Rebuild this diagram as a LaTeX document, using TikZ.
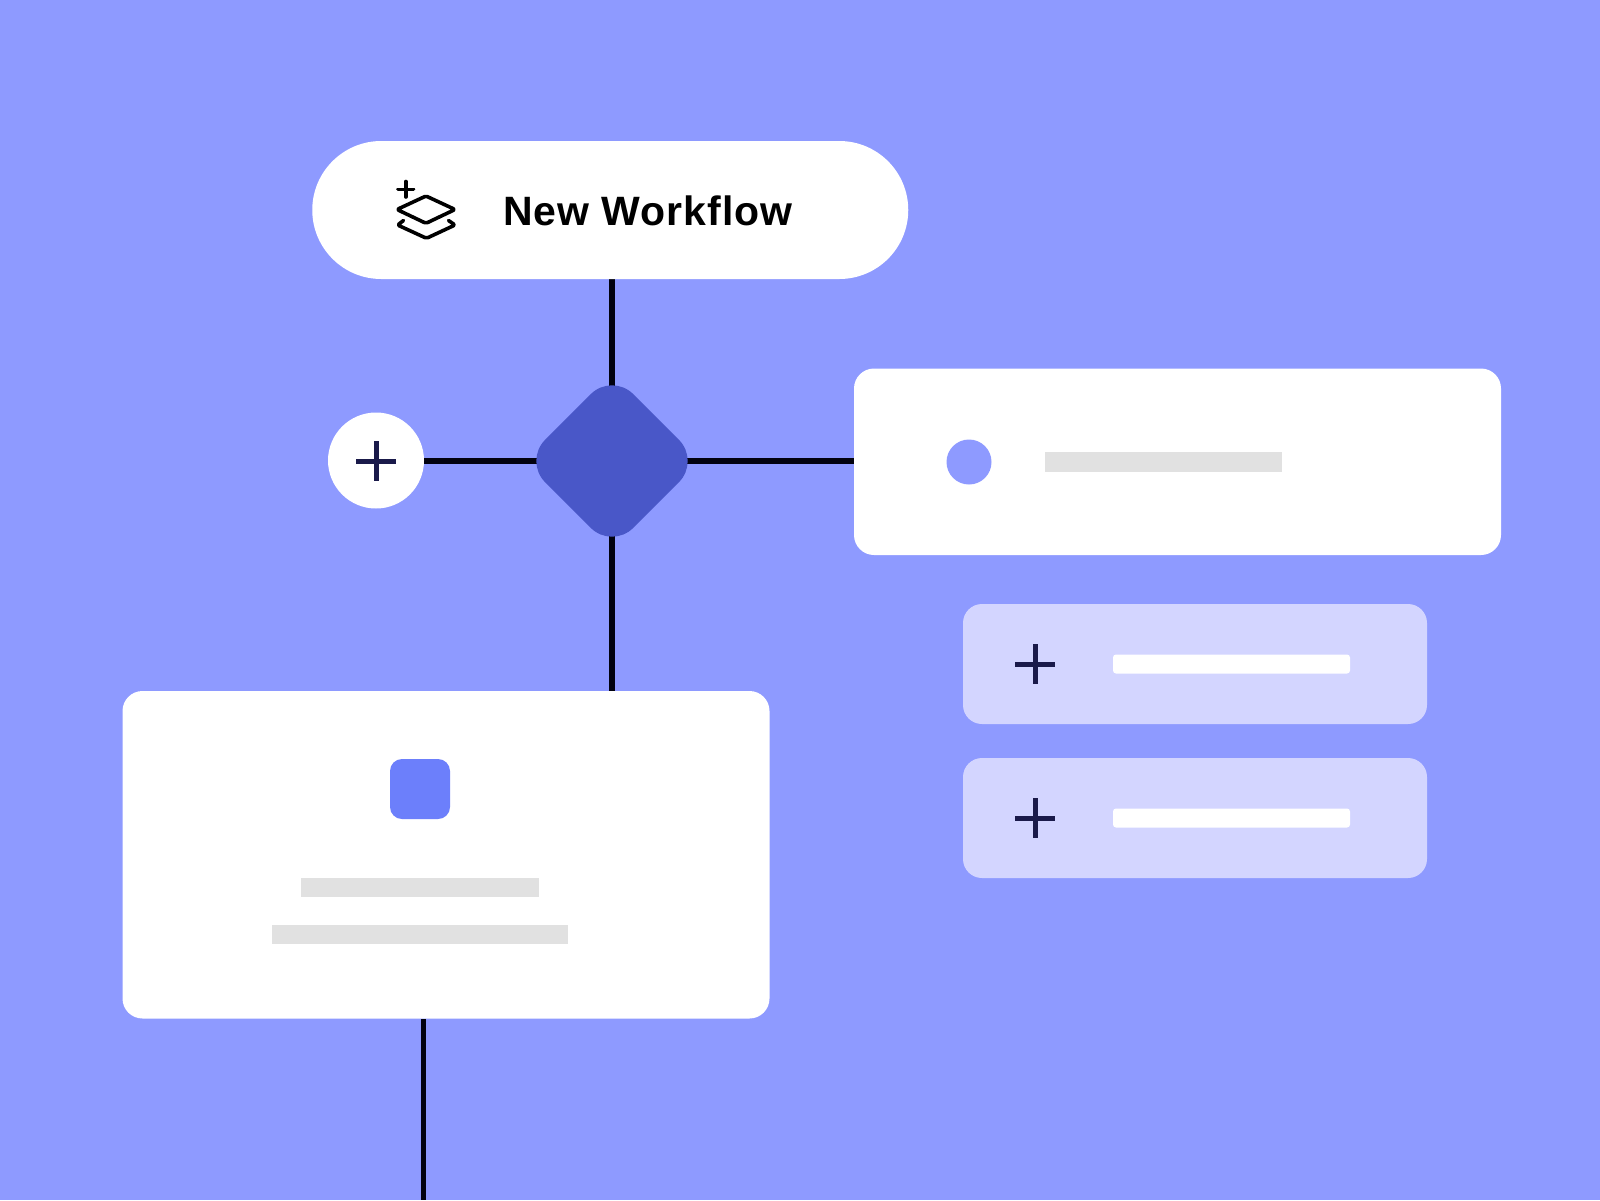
\documentclass[tikz,border=0pt]{standalone}
\usepackage{fontspec}
\setmainfont{Liberation Sans}
\usetikzlibrary{backgrounds}
\definecolor{bgblue}{HTML}{8E9AFF}
\definecolor{diablue}{HTML}{4957C8}
\definecolor{sqblue}{HTML}{6C7FFB}
\definecolor{lightcard}{HTML}{D3D5FF}
\definecolor{barGrey}{HTML}{E1E1E1}
\definecolor{plusink}{HTML}{1A1A4A}
\definecolor{wireink}{HTML}{02020F}
\tikzset{
  x=1pt,y=-1pt,
  wire/.style={draw=wireink,line width=5.8pt},
  whitecard/.style={fill=white,rounded corners=20pt,inner sep=0pt,minimum width=647pt},
  pale/.style={fill=lightcard,rounded corners=19pt,inner sep=0pt,minimum width=464pt,minimum height=120pt},
  greybar/.style={fill=barGrey,inner sep=0pt,minimum height=19.5pt},
  whitebar/.style={fill=white,rounded corners=3pt,inner sep=0pt,minimum width=237pt,minimum height=19pt},
  plusline/.style={draw=plusink,line width=5pt},
  iconline/.style={draw=black,line width=3.6pt,line join=round,line cap=round,rounded corners=1.5pt}
}
\newcommand{\plusat}[2]{\draw[plusline] (#1-20,#2) -- (#1+20,#2) (#1,#2-20) -- (#1,#2+20);}
\begin{document}
\begin{tikzpicture}
\useasboundingbox (0,0) rectangle (1600,1200);
% nodes
\node[fill=white,rounded corners=69pt,inner sep=0pt,minimum width=596pt,minimum height=138pt] (pill) at (610.25,210) {};
\node[fill=diablue,rounded corners=30pt,rotate=45,inner sep=0pt,minimum width=124.6pt,minimum height=124.6pt] (dia) at (612,461) {};
\node[circle,fill=white,inner sep=0pt,minimum size=96pt] (addc) at (376,460.5) {};
\node[whitecard,minimum height=186.5pt] (cardA) at (1177.5,461.75) {};
\node[whitecard,minimum height=327.5pt] (cardB) at (446,854.75) {};
\node[pale] (paleA) at (1195,664) {};
\node[pale] (paleB) at (1195,818) {};
\coordinate (tail) at (423.5,1200);
% connectors
\begin{scope}[on background layer]
\fill[bgblue] (0,0) rectangle (1600,1200);
\draw[wire] (pill.south -| dia.center) -- (dia.center);
\draw[wire] (addc.center |- dia.center) -- (dia.center);
\draw[wire] (dia.center) -- (dia.center -| cardA.west);
\draw[wire] (dia.center) -- (dia.center |- cardB.north);
\draw[wire] (tail |- cardB.south) -- (tail);
\end{scope}
% pill content
\node[anchor=west,inner sep=0pt,font=\fontsize{41}{49}\selectfont\bfseries\addfontfeature{LetterSpace=2.4}] (title) at (503,211) {New Workflow};
\draw[iconline] (405.7,181.5) -- (405.7,197) (398,189.3) -- (413.5,189.3);
\draw[iconline] (426,196) -- (455,209.5) -- (426,223.3) -- (397,209.5) -- cycle;
\draw[iconline] (403.5,220.5) -- (397.6,225) -- (426.5,238.3) -- (455,225) -- (448.5,220.5);
% add button
\plusat{376}{461}
% card A content
\node[circle,fill=bgblue,inner sep=0pt,minimum size=45pt] (dotA) at (969,462) {};
\node[greybar,minimum width=237pt] (barA) at (1163.5,461.75) {};
% card B content
\node[fill=sqblue,rounded corners=12pt,inner sep=0pt,minimum size=60pt] (sqB) at (420,789) {};
\node[greybar,minimum width=238pt] (barB) at (420,887.5) {};
\node[greybar,minimum width=296pt] (barC) at (420,934.5) {};
% pale cards content
\plusat{1035}{664}
\plusat{1035}{818}
\node[whitebar] (barD) at (1231.5,664) {};
\node[whitebar] (barE) at (1231.5,818) {};
\end{tikzpicture}
\end{document}
